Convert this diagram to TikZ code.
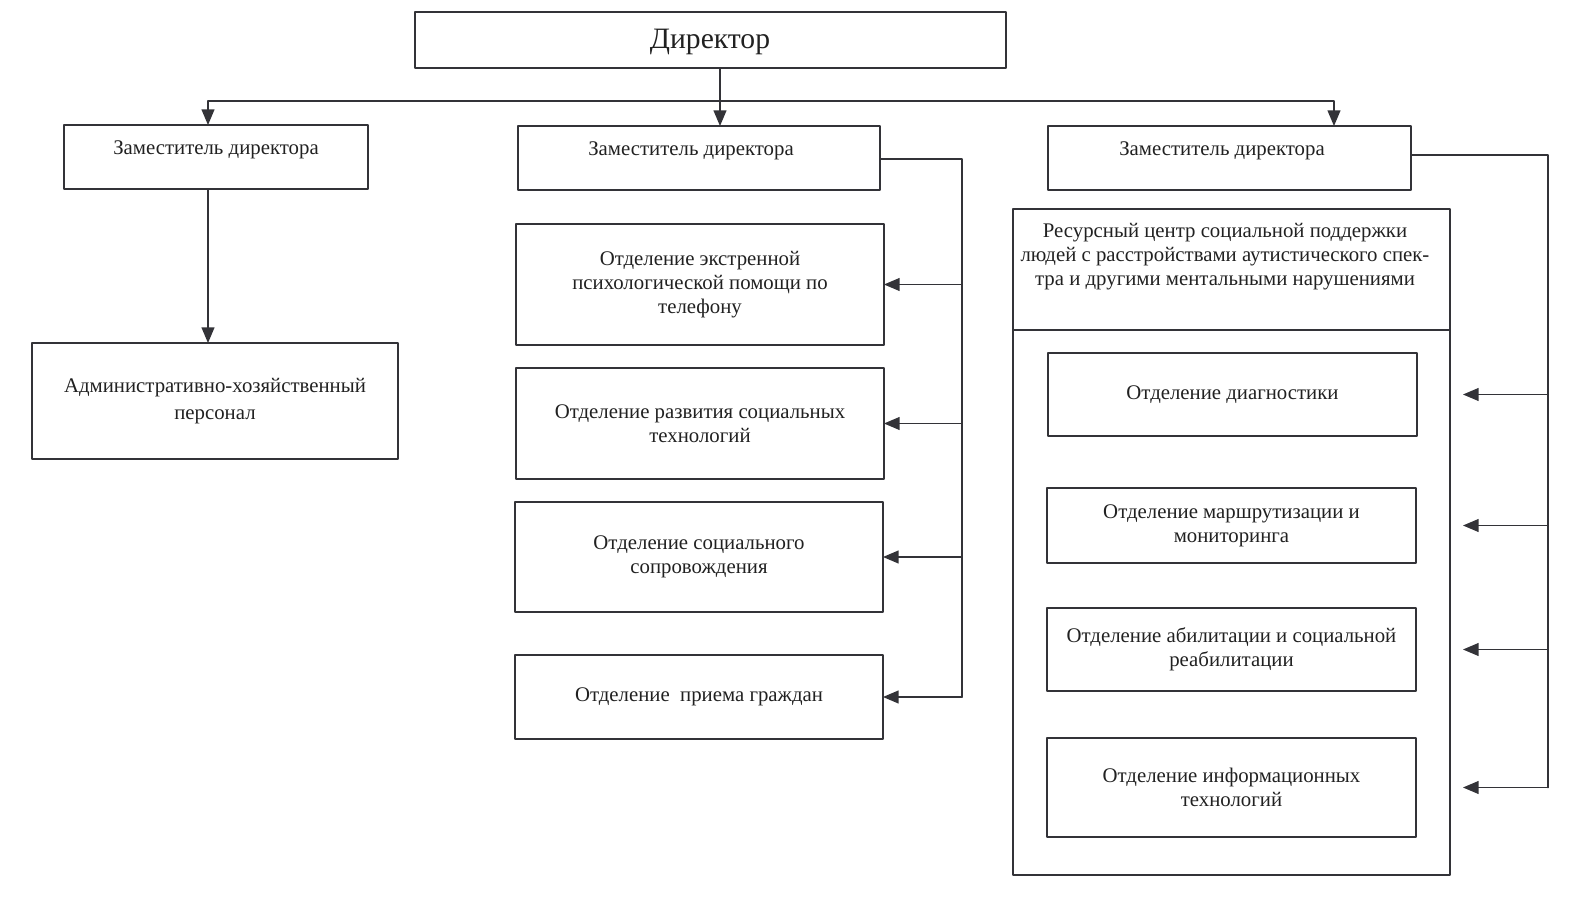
\documentclass[tikz,border=0pt]{standalone}
\usepackage{fontspec}
\setmainfont{Liberation Serif}
\usepackage{tikz}
\usetikzlibrary{calc}
\usetikzlibrary{arrows}
\definecolor{ddline}{rgb}{0.2,0.2,0.22}
\definecolor{ddtext}{rgb}{0.13,0.13,0.13}
\tikzstyle{every node}=[font=\fontsize{10.4}{12}\selectfont, text=ddtext]
\tikzstyle{unit}=[draw=ddline, line width=0.8pt, rectangle, inner sep=0pt, outer sep=0pt, align=center]
\tikzstyle{caption}=[inner sep=0pt, align=center]
\tikzstyle{link}=[draw=ddline, line width=0.8pt]

\begin{document}
\begin{tikzpicture}[line cap=round,line join=round,>=triangle 45,x=0.5pt,y=-0.5pt]
        \useasboundingbox (0,0) rectangle (1571,898);
        % director and deputies
        \node[unit, minimum width=295.5pt, minimum height=28pt] (dir) at (710.5,40) {};
        \node[caption, font=\fontsize{14.8}{18}\selectfont] (dirt) at (710,42) {Директор};
        \node[unit, minimum width=152pt, minimum height=32pt] (dep1) at (216,157) {};
        \node[unit, minimum width=181pt, minimum height=32pt] (dep2) at (699,158) {};
        \node[unit, minimum width=181.5pt, minimum height=32pt] (dep3) at (1229.5,158) {};
        \node[caption] (dep1t) at (216,150) {Заместитель директора};
        \node[caption] (dep2t) at (691,151) {Заместитель директора};
        \node[caption] (dep3t) at (1222,151) {Заместитель директора};
        % left column
        \node[unit, minimum width=183pt, minimum height=58pt, font=\fontsize{10.4}{13.5}\selectfont] (adm) at (215,401) {Административно-хозяйственный\\персонал};
        % middle column
        \node[unit, minimum width=184pt, minimum height=60.5pt] (b1) at (700,284.5) {Отделение экстренной\\психологической помощи по\\телефону};
        \node[unit, minimum width=184pt, minimum height=55.5pt] (b2) at (700,423.5) {Отделение развития социальных\\технологий};
        \node[unit, minimum width=184pt, minimum height=55pt] (b3) at (699,557) {Отделение социального\\сопровождения};
        \node[unit, minimum width=184pt, minimum height=42pt] (b4) at (699,697) {Отделение\ \ приема граждан};
        % right column
        \node[unit, minimum width=218.5pt, minimum height=60.5pt] (rchead) at (1231.5,269.5) {};
        \node[unit, minimum width=218.5pt, minimum height=272.5pt] (rcbody) at (1231.5,602.5) {};
        \node[caption] (rchtext) at (1225,257) {Ресурсный центр социальной поддержки\\людей с расстройствами аутистического спек-\\тра и другими ментальными нарушениями};
        \node[unit, minimum width=184.5pt, minimum height=41.5pt] (c1) at (1232.5,394.5) {Отделение диагностики};
        \node[unit, minimum width=184.5pt, minimum height=37.5pt] (c2) at (1231.5,525.5) {Отделение маршрутизации и\\мониторинга};
        \node[unit, minimum width=184.5pt, minimum height=41.5pt] (c3) at (1231.5,649.5) {Отделение абилитации и социальной\\реабилитации};
        \node[unit, minimum width=184.5pt, minimum height=49.5pt] (c4) at (1231.5,787.5) {Отделение информационных\\технологий};
        % connectors
        \coordinate (hub) at (720,101);
        \coordinate (tapL) at (208,101);
        \coordinate (tapR) at (1334,101);
        \draw[link] (dir.south -| hub) -- (hub);
        \draw[link,->] (hub) -- (hub |- dep2.north);
        \draw[link,->] (hub) -- (tapL) -- (tapL |- dep1.north);
        \draw[link,->] (hub) -- (tapR) -- (tapR |- dep3.north);
        \draw[link,->] (tapL |- dep1.south) -- (tapL |- adm.north);
        \coordinate (spine2) at (962,159);
        \draw[link] (dep2.east |- spine2) -- (spine2) -- (spine2 |- b4.east);
        \foreach \b in {b1,b2,b3,b4}
            \draw[link,->] (spine2 |- \b.east) -- (\b.east);
        \coordinate (spine3) at (1548,155);
        \draw[link] (dep3.east |- spine3) -- (spine3) -- (spine3 |- c4.east);
        \foreach \c in {c1,c2,c3,c4}
            \draw[link,->] (spine3 |- \c.east) -- ([xshift=6.5pt]rcbody.east |- \c.east);
\end{tikzpicture}
\end{document}
